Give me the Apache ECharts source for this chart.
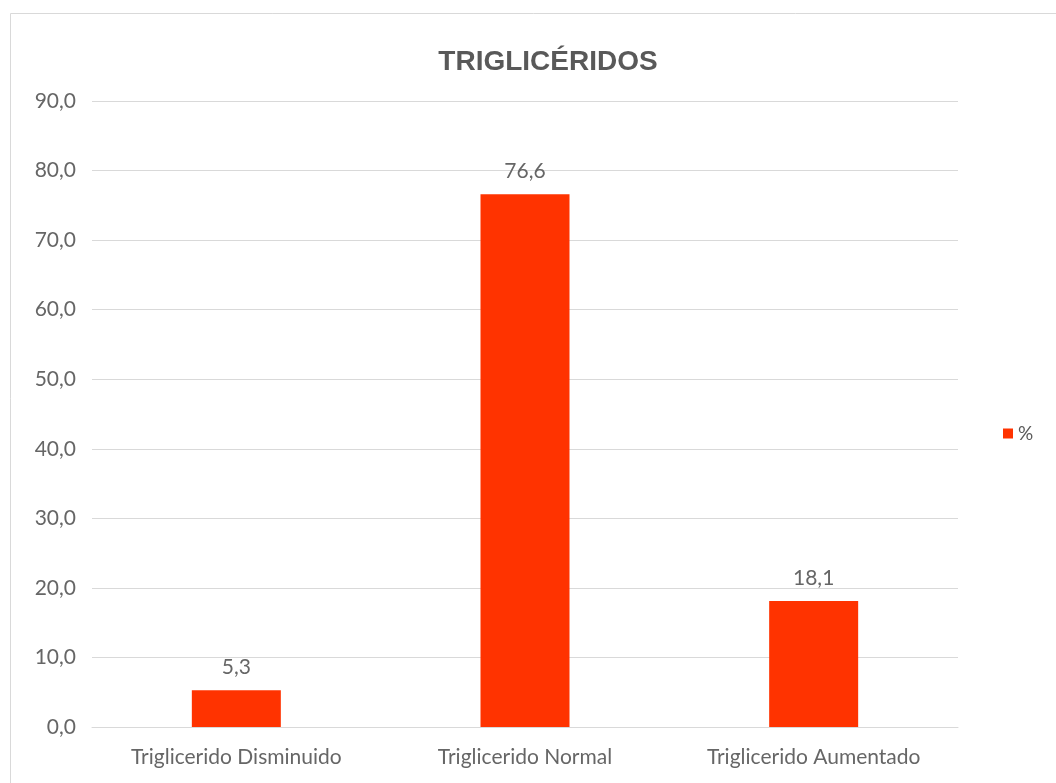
<!DOCTYPE html>
<html>
<head>
<meta charset="utf-8">
<script src="https://cdn.jsdelivr.net/npm/echarts@6/dist/echarts.min.js"></script>
<style>
  html, body { margin: 0; padding: 0; background: #fff; }
  #chart { width: 1056px; height: 783px; }
</style>
</head>
<body>
<div id="chart"></div>
<script>
const categories = ['Triglicerido Disminuido', 'Triglicerido Normal', 'Triglicerido Aumentado']
const percentValues = [5.3, 76.6, 18.1]
const seriesName = '%'
const chartTitle = 'TRIGLICÉRIDOS'

const fmt = (v) => v.toFixed(1).replace('.', ',')

const chart = echarts.init(document.getElementById('chart'))
chart.setOption({
  animation: false,
  title: {
    text: chartTitle,
    left: 543,
    textAlign: 'center',
    top: 43,
    textStyle: {
      fontFamily: 'Liberation Sans',
      fontSize: 28,
      fontWeight: 'bold',
      color: '#595959'
    }
  },
  graphic: [{
    type: 'rect',
    shape: { x: 10.5, y: 13.5, width: 1060, height: 800 },
    style: { fill: 'none', stroke: '#d9d9d9', lineWidth: 1 },
    silent: true
  }],
  legend: {
    orient: 'vertical',
    left: 998,
    top: 419,
    itemWidth: 10,
    itemHeight: 10,
    icon: 'rect',
    textStyle: { fontFamily: 'Lato', fontSize: 19, color: '#595959' }
  },
  grid: { left: 92, right: 98, top: 101, bottom: 56 },
  xAxis: {
    type: 'category',
    data: categories,
    axisTick: { show: false },
    axisLine: { lineStyle: { color: '#d9d9d9', width: 1 } },
    axisLabel: {
      interval: 0,
      hideOverlap: false,
      margin: 20,
      fontFamily: 'Lato',
      fontSize: 21,
      color: '#666666'
    }
  },
  yAxis: {
    type: 'value',
    min: 0,
    max: 90,
    interval: 10,
    axisLine: { show: false },
    axisTick: { show: false },
    splitLine: { lineStyle: { color: '#d9d9d9', width: 1 } },
    axisLabel: {
      margin: 16,
      fontFamily: 'Lato',
      fontSize: 21,
      color: '#666666',
      formatter: fmt
    }
  },
  series: [{
    name: seriesName,
    type: 'bar',
    data: percentValues,
    barWidth: 89,
    itemStyle: { color: '#ff3300' },
    label: {
      show: true,
      position: 'top',
      distance: 12,
      fontFamily: 'Lato',
      fontSize: 21,
      color: '#666666',
      formatter: ({ value }) => fmt(value)
    }
  }]
})
</script>
</body>
</html>
